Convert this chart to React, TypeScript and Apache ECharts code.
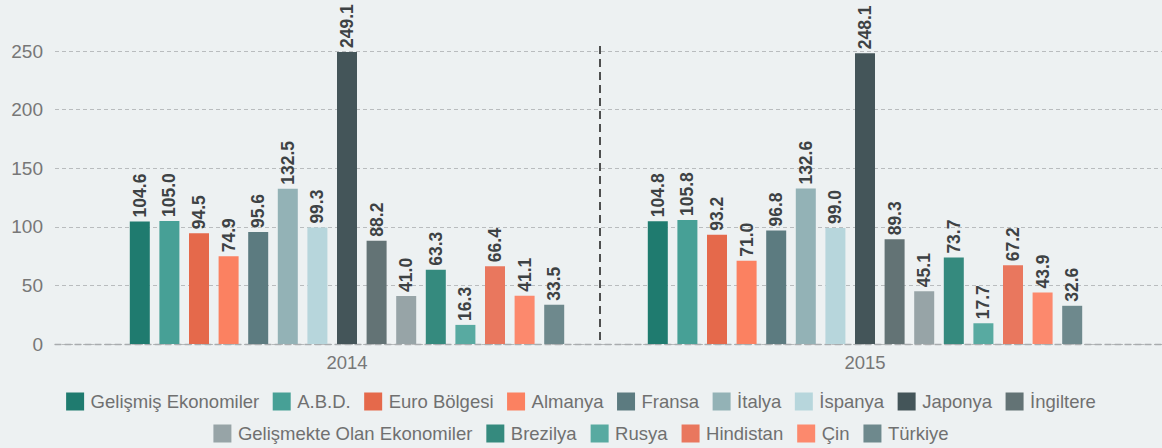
import React, { useEffect, useRef } from "react";
import * as echarts from "echarts";

const years = ["2014", "2015"];
const seriesNames = [
  "Gelişmiş Ekonomiler",
  "A.B.D.",
  "Euro Bölgesi",
  "Almanya",
  "Fransa",
  "İtalya",
  "İspanya",
  "Japonya",
  "İngiltere",
  "Gelişmekte Olan Ekonomiler",
  "Brezilya",
  "Rusya",
  "Hindistan",
  "Çin",
  "Türkiye",
];
const values2014 = [104.6, 105.0, 94.5, 74.9, 95.6, 132.5, 99.3, 249.1, 88.2, 41.0, 63.3, 16.3, 66.4, 41.1, 33.5];
const values2015 = [104.8, 105.8, 93.2, 71.0, 96.8, 132.6, 99.0, 248.1, 89.3, 45.1, 73.7, 17.7, 67.2, 43.9, 32.6];
const colors = [
  "#1f7b6f",
  "#47a096",
  "#e5694b",
  "#fb8161",
  "#5c7b80",
  "#93b2b6",
  "#b7d6dc",
  "#445559",
  "#637375",
  "#97a4a7",
  "#358a7e",
  "#58aaa1",
  "#e9775e",
  "#fc896d",
  "#6e898d",
];
const yTicks = [0, 50, 100, 150, 200, 250];
const legendRow1 = seriesNames.slice(0, 9);
const legendRow2 = seriesNames.slice(9);

export default function App() {
  const ref = useRef<HTMLDivElement>(null);
  useEffect(() => {
    if (!ref.current) return;
    const chart = echarts.init(ref.current, null, { renderer: "svg" });
    const yMin = yTicks[0];
    const yMax = yTicks[yTicks.length - 1];
    const interval = yTicks[1] - yTicks[0];
    const legendBase = {
      left: "center",
      padding: 0,
      itemWidth: 18,
      itemHeight: 18,
      icon: "rect",
      textStyle: { fontSize: 18.5, color: "#707070", padding: [0, 0, 0, 1.5] },
    };
    chart.setOption({
      animation: false,
      backgroundColor: "#edf1f2",
      textStyle: { fontFamily: "Arial, 'Liberation Sans', sans-serif" },
      legend: [
        { ...legendBase, data: legendRow1, top: 392, itemGap: 13.5 },
        { ...legendBase, data: legendRow2, top: 424, itemGap: 14 },
      ],
      grid: [
        { left: 55, right: 0, top: 51, bottom: 104 },
        { left: 88, right: 38, top: 51, bottom: 104 },
      ],
      xAxis: [
        {
          gridIndex: 0,
          type: "value",
          min: 0,
          max: 1,
          axisLabel: { show: false },
          axisTick: { show: false },
          splitLine: { show: false },
          axisLine: {
            show: true,
            lineStyle: { color: "#a9acae", width: 1.3, type: [6, 4] },
          },
        },
        {
          gridIndex: 1,
          type: "category",
          data: years,
          axisLine: { show: false },
          axisTick: { show: false },
          splitLine: { show: false },
          axisLabel: { fontSize: 18.5, color: "#777777", margin: 9 },
        },
      ],
      yAxis: [
        {
          gridIndex: 0,
          type: "value",
          min: yMin,
          max: yMax,
          interval,
          axisLine: { show: false },
          axisTick: { show: false },
          axisLabel: { fontSize: 19, color: "#777777", margin: 12 },
          splitLine: {
            show: true,
            lineStyle: { color: "#b9bcbe", width: 1, type: [4, 3] },
          },
        },
        {
          gridIndex: 1,
          type: "value",
          min: yMin,
          max: yMax,
          interval,
          show: false,
          splitLine: { show: false },
        },
      ],
      graphic: [
        {
          type: "line",
          shape: { x1: 600, y1: 46, x2: 600, y2: 344 },
          style: { stroke: "#1a1a1a", lineWidth: 1.5, lineDash: [8, 5] },
          z: 10,
        },
      ],
      series: seriesNames.map((name, i) => ({
        name,
        type: "bar",
        xAxisIndex: 1,
        yAxisIndex: 1,
        data: [values2014[i], values2015[i]],
        barWidth: 20,
        barGap: "48%",
        itemStyle: { color: colors[i] },
        label: {
          show: true,
          position: "top",
          rotate: 90,
          align: "left",
          verticalAlign: "middle",
          distance: 4,
          fontSize: 17.5,
          fontWeight: "bold",
          color: "#3d4244",
          formatter: (p: any) => Number(p.value).toFixed(1),
        },
      })),
    });
    return () => chart.dispose();
  }, []);
  return (
    <div
      ref={ref}
      style={{ position: "fixed", left: 0, top: 0, width: 1162, height: 448 }}
    />
  );
}
